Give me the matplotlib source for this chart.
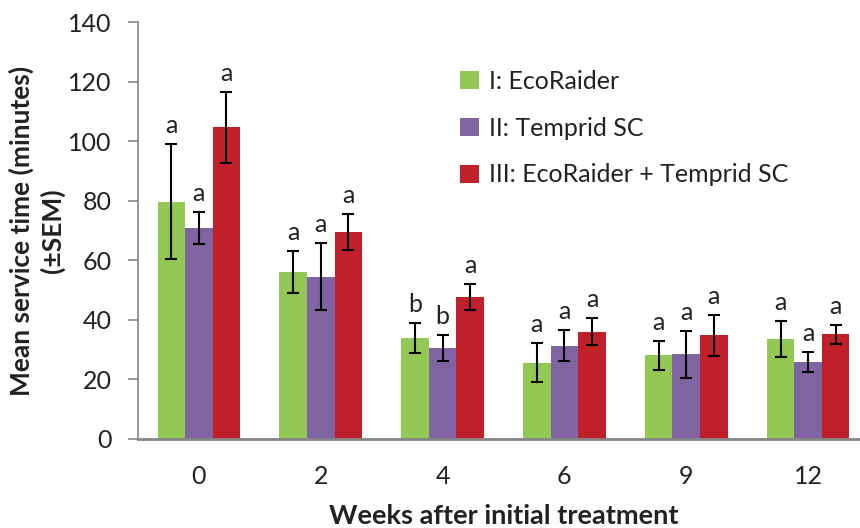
import numpy as np
import matplotlib.pyplot as plt

weeks = ['0', '2', '4', '6', '9', '12']
series = ['I: EcoRaider', 'II: Temprid SC', 'III: EcoRaider + Temprid SC']
colors = ['#92C853', '#8064A2', '#C0202A']

ecoraider = [79.7, 56.0, 33.8, 25.6, 28.1, 33.5]
ecoraider_sem = [19.2, 7.0, 5.0, 6.5, 4.9, 6.1]
temprid = [70.9, 54.5, 30.6, 31.3, 28.5, 25.9]
temprid_sem = [5.4, 11.3, 4.3, 5.2, 7.9, 3.3]
combo = [104.6, 69.4, 47.6, 36.0, 34.8, 35.1]
combo_sem = [12.0, 6.0, 4.3, 4.6, 6.9, 3.3]

letters_eco = ['a', 'a', 'b', 'a', 'a', 'a']
letters_tem = ['a', 'a', 'b', 'a', 'a', 'a']
letters_com = ['a', 'a', 'a', 'a', 'a', 'a']

means = [ecoraider, temprid, combo]
sems = [ecoraider_sem, temprid_sem, combo_sem]
letters = [letters_eco, letters_tem, letters_com]

plt.rcParams['font.family'] = ['Lato', 'DejaVu Sans']

fig = plt.figure(figsize=(8.6, 5.28), dpi=100)
# axis runs past the right edge like the cropped original
ax = fig.add_axes([138/860, 89/528, 731/860, 417/528])

x = np.arange(len(weeks))
w = 0.226
axis_grey = '#868686'
txt = '#222222'

for i in range(3):
    pos = x + (i - 1) * w
    ax.bar(pos, means[i], w, color=colors[i], label=series[i], zorder=2)
    ax.errorbar(pos, means[i], yerr=sems[i], fmt='none', ecolor='black',
                elinewidth=1.5, capsize=4.5, capthick=1.5, zorder=3)
    for p, m, s, l in zip(pos, means[i], sems[i], letters[i]):
        ax.annotate(l, (p, m + s), xytext=(0, 5), textcoords='offset points',
                    ha='center', va='bottom', fontsize=18, color=txt)

ax.set_xlim(-0.5, 5.5)
ax.set_ylim(0, 140)
ax.set_yticks(range(0, 141, 20))
ax.set_xticks(x)
ax.set_xticklabels(weeks)

for side in ['top', 'right']:
    ax.spines[side].set_visible(False)
ax.spines['left'].set_color(axis_grey)
ax.spines['bottom'].set_color(axis_grey)
ax.spines['bottom'].set_linewidth(2)
ax.spines['left'].set_linewidth(1.2)

ax.tick_params(axis='y', length=7, width=1.2, color=axis_grey, pad=12,
               labelsize=18, labelcolor=txt)
ax.tick_params(axis='x', length=0, pad=19, labelsize=18, labelcolor=txt)

ax.set_ylabel('Mean service time (minutes)\n(±SEM)', fontsize=19,
              fontweight='bold', linespacing=1.3, labelpad=2, color=txt)
ax.set_xlabel('Weeks after initial treatment', fontsize=19.5,
              fontweight='bold', labelpad=11, color=txt)

ax.legend(loc='upper left', bbox_to_anchor=(312/731, 1 - 38/417),
          frameon=False, fontsize=18, handlelength=0.75, handleheight=0.75,
          handletextpad=0.4, labelspacing=0.95, borderaxespad=0,
          labelcolor=txt)

fig.savefig('out.png', dpi=100)
